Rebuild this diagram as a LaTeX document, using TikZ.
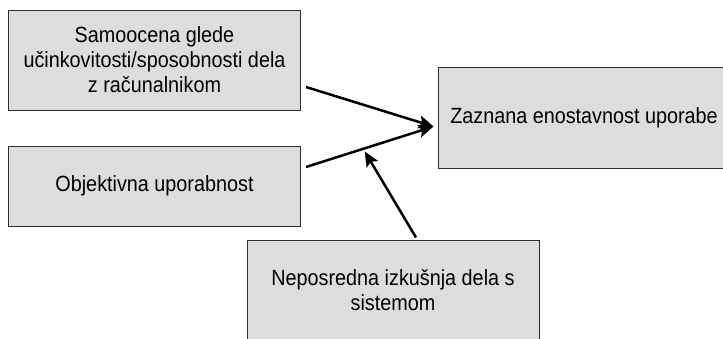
\documentclass[tikz,border=0pt]{standalone}
\usepackage{fontspec}
\setmainfont{Liberation Sans}
\newfontfamily\boxfont[FakeStretch = 0.9]{Liberation Sans}
\usetikzlibrary{arrows.meta, calc}
\definecolor{boxgray}{HTML}{DCDDDF}
\definecolor{edgegray}{HTML}{2E2E2E}
\begin{document}
\begin{tikzpicture}[x = 1pt, y = -1pt,
        box/.style = {draw = edgegray, line width = 1pt, fill = boxgray, minimum width = 292pt, align = center, inner sep = 0pt, font = \boxfont\fontsize{22}{25}\selectfont},
        link/.style = {line width = 2.5pt, -{Stealth[length = 15pt, width = 13pt, inset = 3pt]}}]
            \useasboundingbox (0, 0) rectangle (723, 338);
            \begin{scope}
            \clip (0, 0) rectangle (723, 338);
            \node [box, minimum height = 100pt] (self) at (154.5, 60) {Samoocena glede\\učinkovitosti/sposobnosti dela\\z računalnikom};
            \node [box, minimum height = 80pt] (obj) at (154.5, 186) {Objektivna uporabnost};
            \node [box, minimum height = 101pt] (perc) at (584, 117.5) {Zaznana enostavnost uporabe};
            \node [box, minimum height = 100pt] (exp) at (393, 290) {Neposredna izkušnja dela s\\sistemom};
            \end{scope}
            \coordinate (tip) at ($(perc.west) + (-4, 9)$);
            \coordinate (from1) at ($(self.east) + (5, 27)$);
            \coordinate (from2) at ($(obj.east) + (5, -19)$);
            \coordinate (from3) at ($(exp.north) + (23, -2)$);
            \draw [link] (from1) -- (tip);
            \draw [link] (from2) -- (tip);
            \draw [link] (from3) -- ($(from2)!0.46!(tip) + (0, 3)$);
        \end{tikzpicture}
\end{document}
